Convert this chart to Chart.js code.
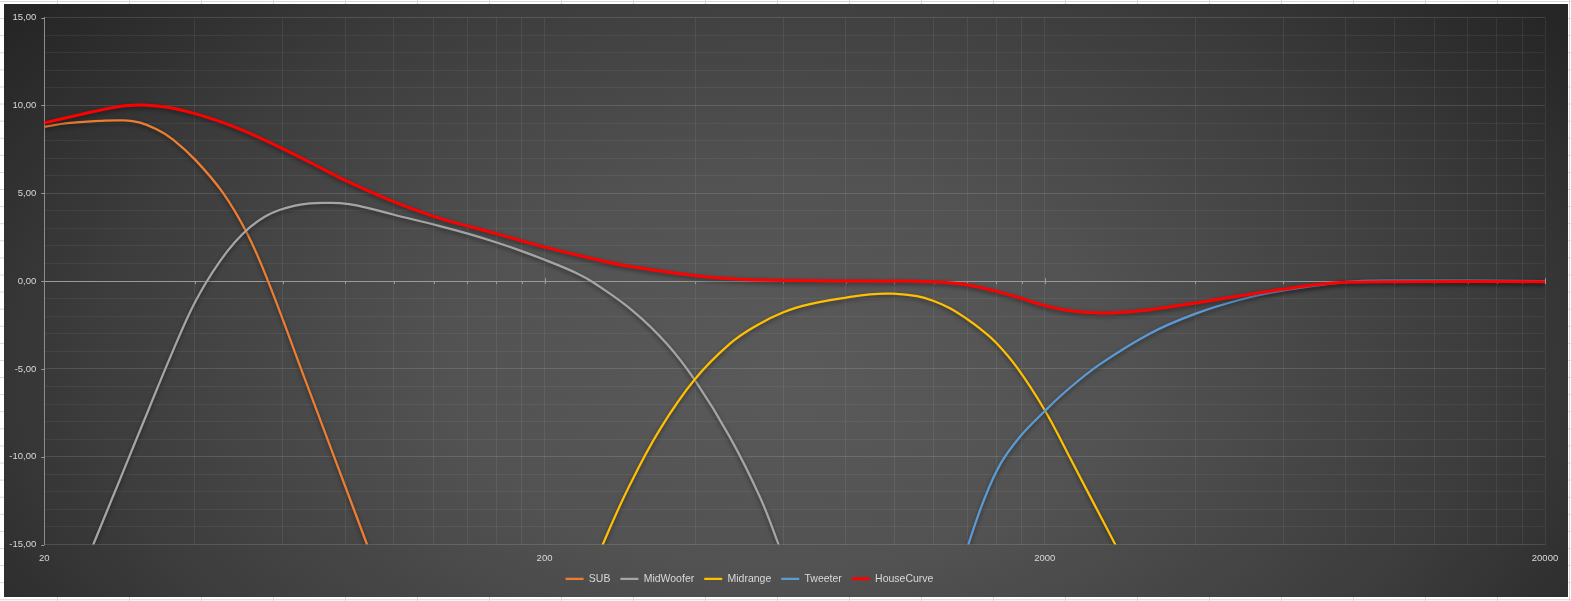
<!DOCTYPE html>
<html><head><meta charset="utf-8">
<script src="https://cdn.jsdelivr.net/npm/chart.js@4.4.1/dist/chart.umd.min.js"></script>
<style>
html,body{margin:0;padding:0;}
body{width:1571px;height:601px;overflow:hidden;position:relative;background-color:#fff;
 background-image:linear-gradient(to right,#d6d6d6 1px,transparent 1px),linear-gradient(to bottom,#d6d6d6 1px,transparent 1px);
 background-size:72px 100%,100% 17.1px;background-position:57px 0,0 1px;}
#box{position:absolute;left:4px;top:4px;width:1564px;height:593px;
 background:radial-gradient(ellipse 62% 95% at 50% 62%,#5a5a5a 0%,#525252 35%,#3c3c3c 72%,#262626 100%);}
canvas{display:block}
</style></head>
<body><div id="box"><canvas id="c" width="1564" height="593"></canvas></div>
<script>
// ---- data (frequency in Hz, level in dB) ----
const seriesNames = ['SUB','MidWoofer','Midrange','Tweeter','HouseCurve'];
const subFreq = [20, 22.2, 25.84, 28.74, 31.07, 33.61, 36.18, 40.21, 45.53, 50.85, 56.02, 65.49, 75.9, 88.35, 102.8];
const subDb   = [8.78, 8.99, 9.12, 9.15, 9.02, 8.63, 8.06, 6.86, 5.02, 2.72, 0, -5.14, -9.99, -15.0, -20.0];
const mwFreq = [22.51, 25.06, 28.78, 32.54, 35.68, 39.11, 41.92, 44.91, 48.12, 51.56, 55.25, 59.2, 63.42, 67.95, 72.81, 78.02, 84.26, 100.06, 123.6, 140.5, 160.4, 180.1, 199.5, 231.9, 250.4, 301.0, 351.1, 399.9, 469.7, 539.3, 586.8, 648.4];
const mwDb   = [-18.24, -15.0, -10.82, -7.11, -4.36, -1.77, -0.18, 1.14, 2.22, 3.07, 3.68, 4.06, 4.30, 4.42, 4.45, 4.44, 4.31, 3.78, 3.13, 2.70, 2.20, 1.71, 1.23, 0.45, -0.08, -1.72, -3.57, -5.66, -8.90, -12.31, -14.97, -18.3];
const mrFreq = [230.1, 261.5, 296.4, 340.4, 399.9, 469.7, 532, 600.5, 679, 797.6, 895, 994.9, 1111, 1196, 1293, 1405, 1485, 1599, 1761, 1996, 2213, 2464, 2765, 3101];
const mrDb   = [-18.9, -15.0, -11.59, -8.43, -5.58, -3.56, -2.51, -1.77, -1.31, -0.95, -0.75, -0.72, -0.86, -1.12, -1.55, -2.20, -2.71, -3.51, -4.93, -7.31, -9.70, -12.26, -14.98, -17.71];
const twFreq = [1323, 1407, 1508, 1628, 1786, 1996, 2213, 2580, 3248, 3982, 4914, 5972, 8032, 10264, 20000];
const twDb   = [-17.48, -15.0, -12.54, -10.45, -8.85, -7.43, -6.23, -4.73, -2.98, -1.88, -1.06, -0.55, -0.04, 0.03, 0];
const hcFreq = [20, 23.57, 27.06, 29.0, 31.07, 33.61, 36.18, 40.21, 45.53, 50.85, 60.02, 72.14, 79.84, 100.06, 123.6, 140.6, 160.7, 199.5, 247.7, 296.4, 401.7, 494.2, 648.4, 895, 1180, 1397, 1729, 1994, 2247, 2580, 2962, 3248, 3978, 4914, 5964, 7102, 8032, 10264, 20000];
const hcDb   = [9.01, 9.48, 9.85, 9.98, 10.03, 9.97, 9.84, 9.52, 9.02, 8.48, 7.53, 6.38, 5.74, 4.51, 3.57, 3.13, 2.69, 1.95, 1.30, 0.84, 0.30, 0.11, 0.03, 0, -0.03, -0.21, -0.84, -1.38, -1.69, -1.82, -1.74, -1.63, -1.26, -0.84, -0.47, -0.18, -0.06, -0.03, -0.03];
const xTickLabels = [20, 200, 2000, 20000];
const yTickLabels = [-15, -10, -5, 0, 5, 10, 15];

// gridline positions (multiples within each decade)
const xGrid = [];
for (const d of xTickLabels.slice(0, 3)) for (let k = 1; k <= 9; k++) xGrid.push(d * k);
xGrid.push(xTickLabels[3]);
const yGrid = [];
for (let v = yTickLabels[0]; v <= yTickLabels[yTickLabels.length - 1]; v++) yGrid.push(v);

const pts = (f, d) => f.map((x, i) => ({x, y: d[i]}));
const colors = ['#ED7D31', '#A5A5A5', '#FFC000', '#5B9BD5', '#FF0000'];
const freqs = [subFreq, mwFreq, mrFreq, twFreq, hcFreq];
const dbs = [subDb, mwDb, mrDb, twDb, hcDb];
const datasets = seriesNames.map((n, i) => ({
  label: n, data: pts(freqs[i], dbs[i]), borderColor: colors[i], backgroundColor: colors[i],
  borderWidth: i === 4 ? 3 : 2.25, pointRadius: 0, fill: false,
  tension: 0.4, order: 4 - i
}));

const deco = {
  id: 'deco',
  beforeDatasetsDraw(chart) {
    const {ctx, scales: {x, y}, chartArea} = chart;
    const y0 = y.getPixelForValue(0);
    ctx.save();
    ctx.strokeStyle = '#9a9a9a'; ctx.lineWidth = 1;
    ctx.beginPath();
    for (const v of xGrid) {
      if (v === xGrid[0]) continue;
      const px = Math.round(x.getPixelForValue(v)) + 0.5;
      const major = xTickLabels.includes(v);
      ctx.moveTo(px, major ? y0 - 3 : y0); ctx.lineTo(px, y0 + 3);
    }
    for (const v of yTickLabels) {
      const py = Math.round(y.getPixelForValue(v)) + 0.5;
      ctx.moveTo(chartArea.left - 3, py); ctx.lineTo(chartArea.left, py);
    }
    ctx.stroke();
    ctx.restore();
  },
  beforeDatasetDraw(chart) {
    const ctx = chart.ctx; ctx.save();
    ctx.shadowColor = 'rgba(0,0,0,0.45)'; ctx.shadowBlur = 4; ctx.shadowOffsetY = 2;
  },
  afterDatasetDraw(chart) { chart.ctx.restore(); },
  afterLayout(chart) { if (chart.legend) { chart.legend.left -= 25; chart.legend.right -= 25; } }
};

const tickFont = {family: 'Liberation Sans', size: 9.5};
new Chart(document.getElementById('c'), {
  type: 'line',
  data: {datasets},
  plugins: [deco],
  options: {
    responsive: false, animation: false, devicePixelRatio: 1,
    layout: {padding: {left: 0, right: 23, top: 11.3, bottom: 3}},
    plugins: {
      legend: {position: 'bottom', labels: {usePointStyle: true, pointStyle: 'line', pointStyleWidth: 18,
        color: '#d9d9d9', font: {family: 'Liberation Sans', size: 10.5}, padding: 10,
        sort: (a, b) => a.datasetIndex - b.datasetIndex}},
      tooltip: {enabled: false}
    },
    scales: {
      x: {type: 'logarithmic', min: 20, max: 20000,
        afterBuildTicks: s => { s.ticks = xGrid.map(v => ({value: v})); },
        afterFit: s => { s.height = 19; },
        grid: {color: 'rgba(255,255,255,0.07)', drawTicks: false},
        border: {display: false},
        ticks: {autoSkip: false, maxRotation: 0, padding: 8, color: '#d9d9d9', font: tickFont,
          callback: v => xTickLabels.includes(v) ? String(v) : ''}},
      y: {min: -15, max: 15,
        afterBuildTicks: s => { s.ticks = yGrid.map(v => ({value: v})); },
        afterFit: s => { s.width = 40.3; },
        grid: {drawTicks: false,
          color: c => c.tick.value === 0 ? '#9a9a9a' : (c.tick.value % 5 === 0 ? 'rgba(255,255,255,0.13)' : 'rgba(255,255,255,0.06)')},
        border: {display: true, color: '#8c8c8c'},
        ticks: {autoSkip: false, padding: 8, color: '#d9d9d9', font: tickFont,
          callback: v => yTickLabels.includes(v) ? v.toFixed(2).replace('.', ',') : ''}}
    }
  }
});
</script>
</body></html>
